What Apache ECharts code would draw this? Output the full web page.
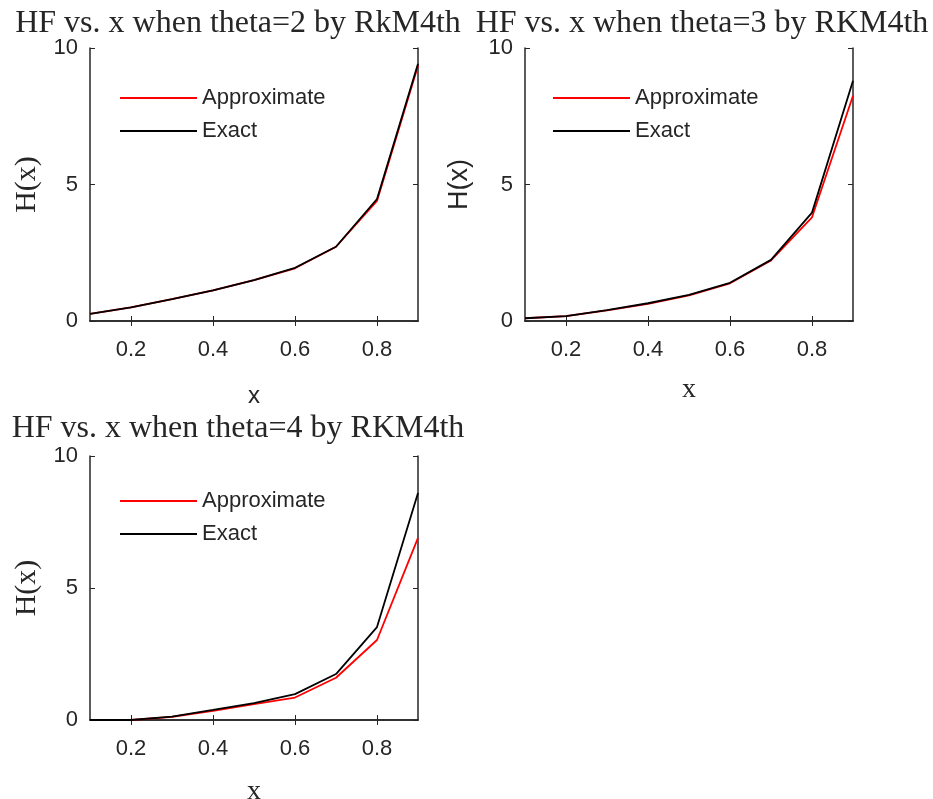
<!DOCTYPE html>
<html>
<head>
<meta charset="utf-8">
<script src="https://cdn.jsdelivr.net/npm/echarts@6/dist/echarts.min.js"></script>
<style>
  html, body { margin: 0; padding: 0; background: #fff; }
  #main { width: 933px; height: 799px; }
</style>
</head>
<body>
<div id="main"></div>
<script>
// x points (same for all three subplots)
var xs = [0.1, 0.2, 0.3, 0.4, 0.5, 0.6, 0.7, 0.8, 0.9];
var xTicks = [0.2, 0.4, 0.6, 0.8];
var yTicks = [0, 5, 10];

// theta = 2
var approx2 = [0.26, 0.5, 0.8, 1.12, 1.5, 1.93, 2.72, 4.4, 9.35];
var exact2  = [0.26, 0.5, 0.8, 1.12, 1.5, 1.95, 2.72, 4.47, 9.42];
// theta = 3
var approx3 = [0.1, 0.18, 0.39, 0.63, 0.94, 1.38, 2.22, 3.8, 8.25];
var exact3  = [0.1, 0.18, 0.4, 0.65, 0.96, 1.4, 2.24, 3.97, 8.8];
// theta = 4
var approx4 = [0, 0, 0.12, 0.35, 0.6, 0.85, 1.6, 3.03, 6.9];
var exact4  = [0, 0, 0.13, 0.38, 0.64, 0.98, 1.74, 3.52, 8.6];

var titles = ['HF vs. x when theta=2 by RkM4th', 'HF vs. x when theta=3 by RKM4th', 'HF vs. x when theta=4 by RKM4th'];

var axisCol = '#262626';
var sans = 'Arial, "Liberation Sans", sans-serif';
var serif = '"Liberation Serif", "Times New Roman", serif';

function pairs(ys) {
  return xs.map(function (x, i) { return [x, ys[i]]; });
}

var grids = [
  { left: 90, top: 48, width: 328, height: 273, outerBoundsMode: 'none' },
  { left: 525, top: 48, width: 328, height: 273, outerBoundsMode: 'none' },
  { left: 90, top: 456, width: 328, height: 264, outerBoundsMode: 'none' }
];

// per-subplot label settings
var xName = [
  { font: sans, size: 24, gap: 63 },
  { font: serif, size: 28, gap: 55 },
  { font: serif, size: 28, gap: 58 }
];
var yName = [
  { font: serif, size: 30, gap: 48 },
  { font: sans, size: 27, gap: 52 },
  { font: serif, size: 30, gap: 48 }
];

var xAxes = [], yAxes = [], series = [], legends = [], titleOpts = [];
var data = [[approx2, exact2], [approx3, exact3], [approx4, exact4]];
var titlePos = [[233, 3], [697, 3], [233, 408]];
var legendPos = [[115, 82], [548, 82], [115, 485]];

for (var g = 0; g < 3; g++) {
  // bottom axis
  xAxes.push({
    gridIndex: g, type: 'value', min: 0.1, max: 0.9, position: 'bottom',
    name: 'x', nameLocation: 'middle', nameGap: xName[g].gap,
    nameTextStyle: { fontFamily: xName[g].font, fontSize: xName[g].size, color: axisCol },
    axisLine: { lineStyle: { color: axisCol, width: 1.5 } },
    axisTick: { inside: true, length: 5, customValues: xTicks, lineStyle: { color: axisCol } },
    axisLabel: { customValues: xTicks, margin: 18, fontFamily: sans, fontSize: 22, color: axisCol,
      formatter: function (v) { return v.toFixed(1); } },
    splitLine: { show: false }
  });
  // top mirror axis
  xAxes.push({
    gridIndex: g, type: 'value', min: 0.1, max: 0.9, position: 'top',
    axisLine: { lineStyle: { color: axisCol, width: 1.5 } },
    axisTick: { inside: true, length: 5, customValues: xTicks, lineStyle: { color: axisCol } },
    axisLabel: { show: false }, splitLine: { show: false }
  });
  yAxes.push({
    gridIndex: g, type: 'value', min: 0, max: 10, interval: 5, position: 'left',
    name: 'H(x)', nameLocation: 'middle', nameGap: yName[g].gap,
    nameTextStyle: { fontFamily: yName[g].font, fontSize: yName[g].size, color: axisCol },
    axisLine: { show: true, lineStyle: { color: axisCol, width: 1.5 } },
    axisTick: { show: true, inside: true, length: 5, lineStyle: { color: axisCol } },
    axisLabel: { margin: 12, fontFamily: sans, fontSize: 22, color: axisCol },
    splitLine: { show: false }
  });
  yAxes.push({
    gridIndex: g, type: 'value', min: 0, max: 10, interval: 5, position: 'right',
    axisLine: { show: true, lineStyle: { color: axisCol, width: 1.5 } },
    axisTick: { show: true, inside: true, length: 5, lineStyle: { color: axisCol } },
    axisLabel: { show: false }, splitLine: { show: false }
  });

  series.push({
    name: 'Approximate', type: 'line', xAxisIndex: g * 2, yAxisIndex: g * 2,
    data: pairs(data[g][0]), showSymbol: false, symbol: 'none',
    lineStyle: { color: '#ff0000', width: 1.8 }, itemStyle: { color: '#ff0000' },
    animation: false, z: 2
  });
  series.push({
    name: 'Exact', type: 'line', xAxisIndex: g * 2, yAxisIndex: g * 2,
    data: pairs(data[g][1]), showSymbol: false, symbol: 'none',
    lineStyle: { color: '#000000', width: 1.8 }, itemStyle: { color: '#000000' },
    animation: false, z: 3
  });

  legends.push({
    left: legendPos[g][0], top: legendPos[g][1], orient: 'vertical',
    data: ['Approximate', 'Exact'], icon: 'rect', itemWidth: 77, itemHeight: 2,
    itemGap: 11, selectedMode: false,
    textStyle: { fontFamily: sans, fontSize: 22, color: '#262626', padding: [0, 0, 0, 0] }
  });

  titleOpts.push({
    text: titles[g], left: titlePos[g][0], top: titlePos[g][1], textAlign: 'center',
    textStyle: { fontFamily: serif, fontSize: 32, fontWeight: 'normal', color: '#262626' }
  });
}

var chart = echarts.init(document.getElementById('main'));
chart.setOption({
  animation: false,
  title: titleOpts,
  legend: legends,
  grid: grids,
  xAxis: xAxes,
  yAxis: yAxes,
  series: series
});
</script>
</body>
</html>
